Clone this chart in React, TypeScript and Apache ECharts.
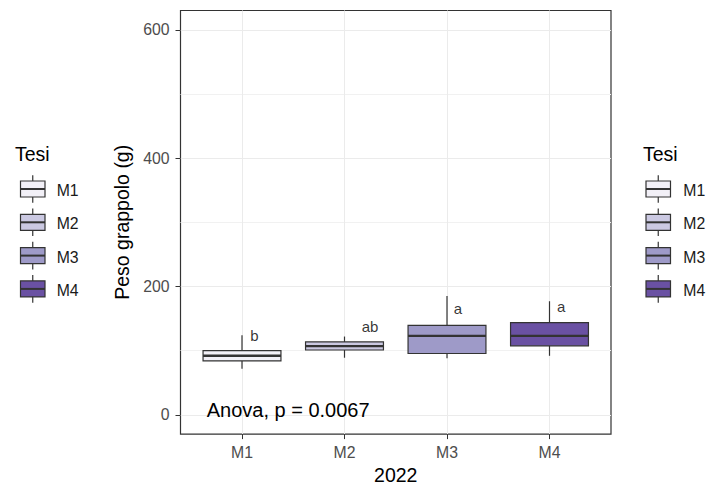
import React, { useEffect, useRef } from "react";
import * as echarts from "echarts";

// ---- data ----
const categories = ["M1", "M2", "M3", "M4"];
const whiskerLow = [72, 89, 88, 92];
const q1 = [84, 101, 95.6, 107.5];
const median = [92, 107, 123, 123];
const q3 = [100, 113.6, 139.5, 143.7];
const whiskerHigh = [124, 122, 185, 177];
const letters = ["b", "ab", "a", "a"];
const letterY = [124, 138, 165.2, 169.2];
const yTicks = [0, 200, 400, 600];
const yMinorTicks = [100, 300, 500];
const xTitle = "2022";
const yTitle = "Peso grappolo (g)";
const legendTitle = "Tesi";
const anovaText = "Anova, p = 0.0067";

// ---- styles / layout ----
const colors = ["#F2F0F7", "#CBC9E2", "#9E9AC8", "#6A51A3"];
const letterDx = [0.12, 0.25, 0.107, 0.115];
const boxWidth = 0.76;
const FONT = "'Liberation Sans', Arial, sans-serif";
const OUTLINE = "#333333";
const GRID = "#EBEBEB";

function legendElements(titleX: number, boxX: number, labelX: number) {
  const els: any[] = [];
  els.push({
    type: "text",
    x: titleX,
    y: 153.5,
    style: { text: legendTitle, font: `19.5px ${FONT}`, fill: "#000", verticalAlign: "middle", align: "left" },
  });
  const w = 24.5;
  categories.forEach((c, i) => {
    const cy = 189 + i * 33.3;
    const cx = boxX + w / 2;
    els.push({
      type: "line",
      shape: { x1: cx, y1: cy - 13.8, x2: cx, y2: cy + 13.8 },
      style: { stroke: OUTLINE, lineWidth: 1.2 },
    });
    els.push({
      type: "rect",
      shape: { x: boxX, y: cy - 8, width: w, height: 16 },
      style: { fill: colors[i], stroke: OUTLINE, lineWidth: 1.2 },
    });
    els.push({
      type: "line",
      shape: { x1: boxX, y1: cy, x2: boxX + w, y2: cy },
      style: { stroke: OUTLINE, lineWidth: 2 },
    });
    els.push({
      type: "text",
      x: labelX,
      y: cy + 1.5,
      style: { text: c, font: `15.8px ${FONT}`, fill: "#1a1a1a", verticalAlign: "middle", align: "left" },
    });
  });
  return els;
}

export default function App() {
  const ref = useRef<HTMLDivElement>(null);
  useEffect(() => {
    document.body.style.margin = "0";
    if (!ref.current) return;
    const chart = echarts.init(ref.current, undefined, { renderer: "svg" });
    const boxData = categories.map((c, i) => [i + 1, whiskerLow[i], q1[i], median[i], q3[i], whiskerHigh[i]]);
    const letterData = letters.map((l, i) => ({ name: l, value: [i + 1 + letterDx[i], letterY[i]] }));

    const option: any = {
      animation: false,
      backgroundColor: "#ffffff",
      textStyle: { fontFamily: FONT },
      grid: {
        left: 180.5,
        top: 10.5,
        width: 430.5,
        height: 424,
        show: true,
        borderColor: OUTLINE,
        borderWidth: 1.2,
        backgroundColor: "transparent",
        containLabel: false,
      },
      xAxis: {
        type: "value",
        min: 0.4,
        max: 4.6,
        name: xTitle,
        nameLocation: "middle",
        nameGap: 27,
        nameTextStyle: { fontSize: 19.5, color: "#000", fontFamily: FONT },
        axisLine: { show: false, onZero: false },
        axisTick: { show: true, length: 5, lineStyle: { color: OUTLINE }, customValues: [1, 2, 3, 4] },
        axisLabel: {
          customValues: [1, 2, 3, 4],
          formatter: (v: number) => categories[Math.round(v) - 1] ?? "",
          fontSize: 15.8,
          color: "#4D4D4D",
          margin: 10,
          fontFamily: FONT,
        },
        splitLine: { show: true, lineStyle: { color: GRID, width: 1 } },
      },
      yAxis: [
        {
          type: "value",
          min: -30,
          max: 630,
          name: yTitle,
          nameLocation: "middle",
          nameGap: 43,
          nameRotate: 90,
          nameTextStyle: { fontSize: 19.5, color: "#000", fontFamily: FONT },
          axisLine: { show: false, onZero: false },
          axisTick: { show: true, length: 5, lineStyle: { color: OUTLINE }, customValues: yTicks },
          axisLabel: { customValues: yTicks, fontSize: 15.8, color: "#4D4D4D", margin: 11, fontFamily: FONT },
          splitLine: { show: true, lineStyle: { color: GRID, width: 1 } },
        },
        {
          type: "value",
          min: -30,
          max: 630,
          position: "left",
          axisLine: { show: false, onZero: false },
          axisTick: { show: false, customValues: yMinorTicks },
          axisLabel: { show: false, customValues: yMinorTicks },
          splitLine: { show: true, lineStyle: { color: "#F1F1F1", width: 1 } },
        },
      ],
      series: [
        {
          type: "custom",
          xAxisIndex: 0,
          yAxisIndex: 0,
          encode: { x: 0, y: [1, 2, 3, 4, 5] },
          data: boxData,
          z: 5,
          renderItem: (params: any, api: any) => {
            const x = api.value(0);
            const pLow = api.coord([x, api.value(1)]);
            const pQ1 = api.coord([x, api.value(2)]);
            const pMed = api.coord([x, api.value(3)]);
            const pQ3 = api.coord([x, api.value(4)]);
            const pHigh = api.coord([x, api.value(5)]);
            const w = api.size([boxWidth, 0])[0];
            const cx = pMed[0];
            const lw = 1.2;
            return {
              type: "group",
              children: [
                { type: "line", shape: { x1: cx, y1: pHigh[1], x2: cx, y2: pQ3[1] }, style: { stroke: OUTLINE, lineWidth: lw } },
                { type: "line", shape: { x1: cx, y1: pQ1[1], x2: cx, y2: pLow[1] }, style: { stroke: OUTLINE, lineWidth: lw } },
                {
                  type: "rect",
                  shape: { x: cx - w / 2, y: pQ3[1], width: w, height: pQ1[1] - pQ3[1] },
                  style: { fill: colors[params.dataIndex], stroke: OUTLINE, lineWidth: lw },
                },
                { type: "line", shape: { x1: cx - w / 2, y1: pMed[1], x2: cx + w / 2, y2: pMed[1] }, style: { stroke: OUTLINE, lineWidth: 2.4 } },
              ],
            };
          },
        },
        {
          type: "scatter",
          xAxisIndex: 0,
          yAxisIndex: 0,
          data: letterData,
          symbolSize: 1,
          itemStyle: { color: "rgba(0,0,0,0)" },
          z: 6,
          label: {
            show: true,
            position: "inside",
            formatter: "{b}",
            fontSize: 15,
            color: "#000",
            fontFamily: FONT,
          },
        },
      ],
      graphic: [
        ...legendElements(15, 20.5, 56.7),
        ...legendElements(643, 646, 683.3),
        {
          type: "text",
          x: 206.7,
          y: 410.4,
          z: 10,
          style: { text: anovaText, font: `20px ${FONT}`, fill: "#000", verticalAlign: "middle", align: "left" },
        },
      ],
    };
    chart.setOption(option);
    return () => chart.dispose();
  }, []);
  return <div ref={ref} style={{ width: 709, height: 490 }} />;
}
